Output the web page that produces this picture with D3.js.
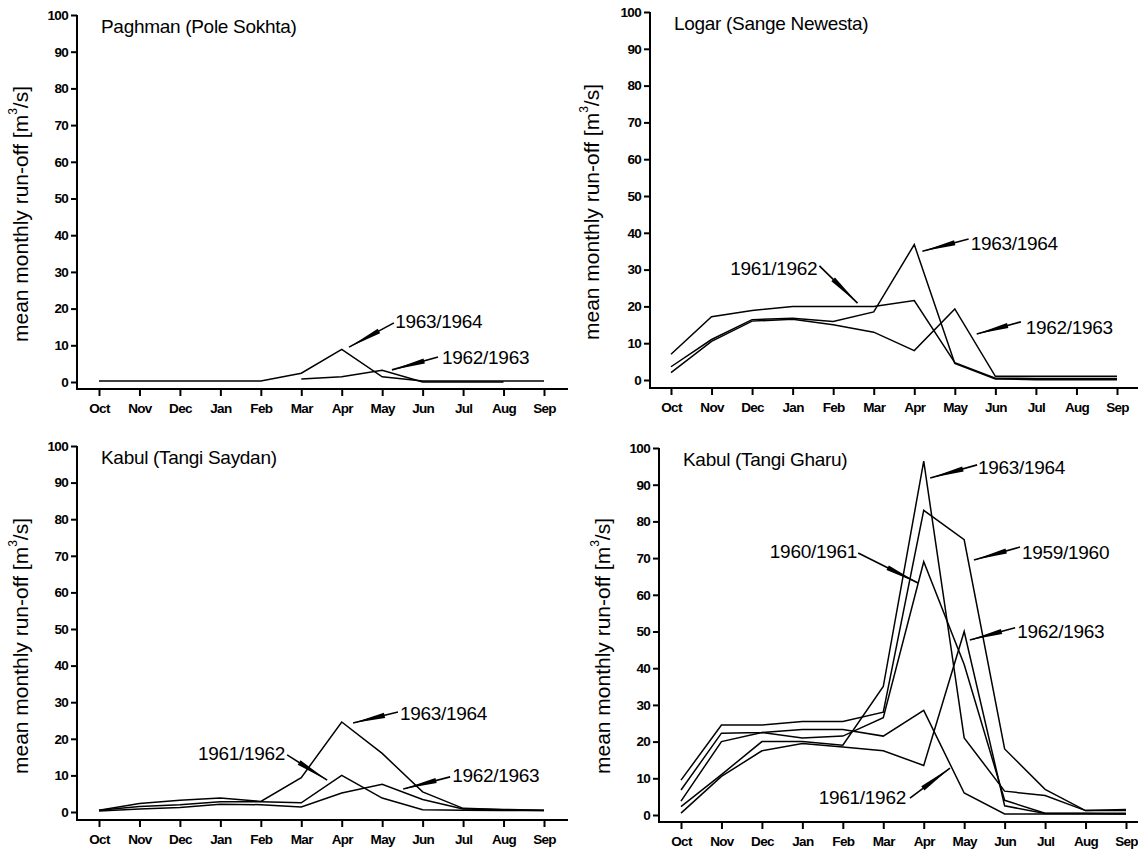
<!DOCTYPE html>
<html>
<head>
<meta charset="utf-8">
<title>mean monthly run-off</title>
<script src="https://cdn.jsdelivr.net/npm/d3@7"></script>
<style>
body { margin: 0; background: #fff; }
svg { display: block; font-family: "Liberation Sans", Arial, sans-serif; }
</style>
</head>
<body>
<svg id="chart" width="1138" height="854"></svg>
<script>

// ---- data ----
var months = ["Oct","Nov","Dec","Jan","Feb","Mar","Apr","May","Jun","Jul","Aug","Sep"];
var yTicks = [0,10,20,30,40,50,60,70,80,90,100];

// Paghman (Pole Sokhta)
var pag6364 = [0.3,0.3,0.3,0.3,0.3,2.4,8.9,1.4,0.3,0.3,0.3,0.3];
var pag6263 = [null,null,null,null,null,0.8,1.4,3.2,0,0,0,null];

// Logar (Sange Newesta)
var log6162 = [7,17.2,18.9,20,20,20,21.6,4.7,0.5,0.4,0.4,0.4];
var log6364 = [3.6,11,16.4,16.8,15.9,18.5,36.8,4.5,0.3,0.1,0.1,0.1];
var log6263 = [2,10.5,16,16.5,15,13,8,19.3,1,1,1,1];

// Kabul (Tangi Saydan)
var say6364 = [0.5,2.3,3.2,3.8,2.9,9.4,24.6,16,5.5,1,0.7,0.5];
var say6162 = [0.5,1.5,2,2.8,2.8,2.5,10,3.8,0.6,0.5,0.4,0.4];
var say6263 = [0.3,0.8,1.2,2.1,2,1.4,5.2,7.6,3.4,0.8,0.6,0.4];

// Kabul (Tangi Gharu)
var gha6364 = [2.3,11,20,20,19,35,96.4,21,6.5,5.3,1.2,1.2];
var gha5960 = [9.5,24.5,24.5,25.5,25.5,28,83,75,18,7,1.2,1.5];
var gha6061 = [3.8,20,22.5,21,21.5,26.5,69,41,4,0.5,0.5,0.5];
var gha6263 = [0.5,10.5,17.5,19.5,18.5,17.5,13.5,50,2.5,0.4,0.4,0.3];
var gha6162 = [6.8,22.3,22.5,23.3,23.3,21.5,28.5,6,0.3,0.3,0.3,0.3];

// ---- layout ----
// notes: label position (tx,ty) and arrow from (ax,ay) to (bx,by), in month-index / value units
var panels = [
  { title: "Paghman (Pole Sokhta)", series: [pag6364, pag6263],
    axisX: 77, xr: [99,544], yr: [382,15], xAxisY: 389, xEnd: 568, ylx: 20, yly: 214,
    notes: [
      {t:"1963/1964", tx:7.32, ty:16.6, anchor:"start", ax:7.29, ay:16.1, bx:6.18, by:9.5},
      {t:"1962/1963", tx:8.48, ty:6.8, anchor:"start", ax:8.38, ay:6.8, bx:7.24, by:3.3}
    ] },
  { title: "Logar (Sange Newesta)", series: [log6162, log6364, log6263],
    axisX: 650, xr: [671,1117], yr: [380,12], xAxisY: 388, xEnd: 1138, ylx: 591, yly: 212,
    notes: [
      {t:"1961/1962", tx:3.61, ty:30.4, anchor:"end", ax:3.66, ay:31, bx:4.6, by:20.9},
      {t:"1963/1964", tx:7.39, ty:37.2, anchor:"start", ax:7.34, ay:38.3, bx:6.2, by:35},
      {t:"1962/1963", tx:8.75, ty:14.4, anchor:"start", ax:8.63, ay:15.8, bx:7.54, by:12.5}
    ] },
  { title: "Kabul (Tangi Saydan)", series: [say6364, say6162, say6263],
    axisX: 77, xr: [99,544], yr: [812,446], xAxisY: 820, xEnd: 568, ylx: 20, yly: 646,
    notes: [
      {t:"1961/1962", tx:4.6, ty:16.1, anchor:"end", ax:4.65, ay:15.6, bx:5.64, by:8.7},
      {t:"1963/1964", tx:7.44, ty:27, anchor:"start", ax:7.39, ay:27.3, bx:6.28, by:24.3},
      {t:"1962/1963", tx:8.73, ty:10.1, anchor:"start", ax:8.68, ay:9.6, bx:7.52, by:6.3}
    ] },
  { title: "Kabul (Tangi Gharu)", series: [gha6364, gha5960, gha6061, gha6263, gha6162],
    axisX: 659, xr: [681,1126], yr: [815,448], xAxisY: 822, xEnd: 1138, ylx: 602, yly: 646,
    notes: [
      {t:"1963/1964", tx:7.34, ty:94.8, anchor:"start", ax:7.32, ay:95.4, bx:6.16, by:91.8},
      {t:"1960/1961", tx:4.35, ty:71.7, anchor:"end", ax:4.38, ay:71.4, bx:5.86, by:63.2},
      {t:"1959/1960", tx:8.43, ty:71.4, anchor:"start", ax:8.38, ay:73, bx:7.24, by:69.5},
      {t:"1962/1963", tx:8.31, ty:49.9, anchor:"start", ax:8.26, ay:51, bx:7.14, by:47.7},
      {t:"1961/1962", tx:5.56, ty:4.9, anchor:"end", ax:5.66, ay:4.6, bx:6.65, by:12.8}
    ] }
];

var svg = d3.select("#chart");
svg.append("rect").attr("width",1138).attr("height",854).attr("fill","#fff");

function arrow(g, x1, y1, x2, y2) {
	var dx = x2 - x1, dy = y2 - y1;
	var len = Math.sqrt(dx*dx + dy*dy);
	var ux = dx/len, uy = dy/len;
	var hl = Math.min(len*0.7, 34), hw = 2.6;
	var bx = x2 - ux*hl, by = y2 - uy*hl;
	g.append("line").attr("x1",x1).attr("y1",y1).attr("x2",x2).attr("y2",y2)
		.attr("stroke","#000").attr("stroke-width",1.6);
	g.append("polygon")
		.attr("points", [[x2,y2],[bx - uy*hw, by + ux*hw],[bx + uy*hw, by - ux*hw]].map(function(p){ return p.join(","); }).join(" "))
		.attr("fill","#000");
}

panels.forEach(function (p) {
	var x = d3.scalePoint().domain(months).range(p.xr);
	var xi = d3.scaleLinear().domain([0,11]).range(p.xr);
	var y = d3.scaleLinear().domain([0,100]).range(p.yr);
	var g = svg.append("g");

	// axis lines
	g.append("line").attr("x1",p.axisX).attr("x2",p.axisX).attr("y1",y(100)).attr("y2",p.xAxisY+1)
		.attr("stroke","#000").attr("stroke-width",2);
	g.append("line").attr("x1",p.axisX).attr("x2",p.xEnd).attr("y1",p.xAxisY).attr("y2",p.xAxisY)
		.attr("stroke","#000").attr("stroke-width",2);

	var ya = g.append("g").attr("transform","translate(" + p.axisX + ",0)")
		.call(d3.axisLeft(y).tickValues(yTicks).tickSize(6).tickPadding(3));
	ya.select(".domain").remove();

	var xa = g.append("g").attr("transform","translate(0," + p.xAxisY + ")")
		.call(d3.axisBottom(x).tickSize(7).tickPadding(7));
	xa.select(".domain").remove();

	g.selectAll(".tick line").attr("stroke","#000").attr("stroke-width",2);
	g.selectAll(".tick text").attr("fill","#000")
		.style("font-family","'Liberation Sans', Arial, sans-serif")
		.style("font-size","13.5px").style("font-weight","bold").style("letter-spacing","-0.7px");

	// title
	g.append("text").attr("x",p.axisX + 24).attr("y",y(100) + 11)
		.attr("dominant-baseline","central")
		.style("font-size","19px").style("letter-spacing","-0.3px")
		.text(p.title);

	// y axis label
	var yl = g.append("text")
		.attr("transform","translate(" + p.ylx + "," + p.yly + ") rotate(-90)")
		.attr("text-anchor","middle").attr("dominant-baseline","central")
		.style("font-size","21px");
	yl.append("tspan").text("mean monthly run-off [m");
	yl.append("tspan").attr("dy",-7).style("font-size","12px").text("3");
	yl.append("tspan").attr("dy",7).text("/s]");

	// series
	var line = d3.line()
		.defined(function (d) { return d != null; })
		.x(function (d, i) { return x(months[i]); })
		.y(function (d) { return y(d); });

	g.selectAll(".series").data(p.series).enter()
		.append("path")
		.attr("class","series")
		.attr("d", line)
		.attr("fill","none")
		.attr("stroke","#000")
		.attr("stroke-width",1.5)
		.attr("stroke-linejoin","miter");

	// labels with arrows
	p.notes.forEach(function (n) {
		g.append("text").attr("x",xi(n.tx)).attr("y",y(n.ty))
			.attr("text-anchor",n.anchor).attr("dominant-baseline","central")
			.style("font-size","19px").style("letter-spacing","-0.3px")
			.text(n.t);
		arrow(g, xi(n.ax), y(n.ay), xi(n.bx), y(n.by));
	});
});

</script>
</body>
</html>
